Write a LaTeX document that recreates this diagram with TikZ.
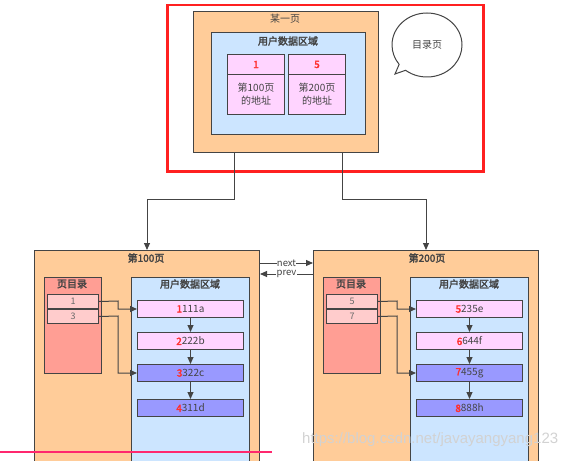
\documentclass[tikz,border=0pt]{standalone}
\usepackage{fontspec}
\setmainfont{Noto Sans CJK SC}[AutoFakeBold=2.5]
\newfontfamily\wmfont{Liberation Sans}
\usetikzlibrary{arrows.meta,shapes.callouts}
\definecolor{pageor}{HTML}{FFCC99}
\definecolor{areabl}{HTML}{CCE5FF}
\definecolor{cellpk}{HTML}{FFD4FF}
\definecolor{dirred}{HTML}{FF9E94}
\definecolor{dircell}{HTML}{FFCCCC}
\definecolor{recdark}{HTML}{9999FF}
\definecolor{edge}{HTML}{444444}
\definecolor{numred}{HTML}{FF3030}
\begin{document}
\begin{tikzpicture}[x=1pt,y=-1pt,
  box/.style={draw=edge,line width=1pt,inner sep=0pt,anchor=north west},
  lbl/.style={font=\fontsize{10}{11}\selectfont\bfseries,text=edge,inner sep=1pt},
  rec/.style={box,minimum width=106pt,minimum height=17pt,font=\fontsize{10}{11}\selectfont,text=edge},
  dcell/.style={box,fill=dircell,minimum width=51pt,minimum height=14pt,font=\fontsize{9}{10}\selectfont,text=edge!80},
  conn/.style={draw=edge,line width=1pt,-{Triangle[width=6pt,length=7pt]}},
  npl/.style={fill=white,inner sep=0.3pt,font=\fontsize{9.5}{10}\selectfont,text=edge},
]
\useasboundingbox (0,0) rectangle (583,460);
\clip (0,0) rectangle (583,460);
% top page
\node[box,fill=pageor,minimum width=185pt,minimum height=141pt] (top) at (193,11) {};
\node[lbl,font=\fontsize{10}{11}\selectfont] (toplbl) at (285,19) {某一页};
\node[box,fill=areabl,minimum width=154pt,minimum height=102pt] (toparea) at (211,32) {};
\node[lbl] (topalbl) at (288,41) {用户数据区域};
\node[box,fill=cellpk,minimum width=57pt,minimum height=20pt,font=\fontsize{10}{11}\selectfont\bfseries,text=numred] (h1) at (227,54) {1};
\node[box,fill=cellpk,minimum width=57pt,minimum height=40pt,align=center,font=\fontsize{10}{13}\selectfont,text=edge] (c1) at (227,74) {第100页\\的地址};
\node[box,fill=cellpk,minimum width=57pt,minimum height=20pt,font=\fontsize{10}{11}\selectfont\bfseries,text=numred] (h5) at (288,54) {5};
\node[box,fill=cellpk,minimum width=57pt,minimum height=40pt,align=center,font=\fontsize{10}{13}\selectfont,text=edge] (c5) at (288,74) {第200页\\的地址};
% callout
\node[ellipse callout,draw=edge,line width=1pt,fill=white,minimum width=70pt,minimum height=64pt,
  callout absolute pointer={(395,74)},font=\fontsize{10}{11}\selectfont,text=edge] (bubble) at (427,45) {目录页};
% red frame
\node[draw={rgb,255:red,255;green,32;blue,32},line width=2.5pt,minimum width=316pt,minimum height=166pt,inner sep=0pt,anchor=north west] (frame) at (166,4) {};
% bottom left page
\node[box,fill=pageor,minimum width=225pt,minimum height=230pt] (p100) at (34,250) {};
\node[lbl] (p100lbl) at (146,258) {第100页};
\node[box,fill=dirred,minimum width=57pt,minimum height=96pt] (dir1) at (44,277) {};
\node[lbl] (dir1lbl) at (72,284) {页目录};
\node[dcell] (d1) at (47,294) {1};
\node[dcell] (d3) at (47,309) {3};
\node[box,fill=areabl,minimum width=118pt,minimum height=200pt] (area1) at (131,277) {};
\node[lbl] (area1lbl) at (190,284) {用户数据区域};
\node[rec,fill=cellpk] (r1) at (137,300) {\textbf{\color{numred}1}111a};
\node[rec,fill=cellpk] (r2) at (137,332) {\textbf{\color{numred}2}222b};
\node[rec,fill=recdark] (r3) at (137,364) {\textbf{\color{numred}3}322c};
\node[rec,fill=recdark] (r4) at (137,399) {\textbf{\color{numred}4}311d};
% bottom right page
\node[box,fill=pageor,minimum width=225pt,minimum height=230pt] (p200) at (313,250) {};
\node[lbl] (p200lbl) at (427,258) {第200页};
\node[box,fill=dirred,minimum width=57pt,minimum height=96pt] (dir2) at (323,277) {};
\node[lbl] (dir2lbl) at (351,284) {页目录};
\node[dcell] (d5) at (326,294) {5};
\node[dcell] (d7) at (326,309) {7};
\node[box,fill=areabl,minimum width=118pt,minimum height=200pt] (area2) at (410,277) {};
\node[lbl] (area2lbl) at (469,284) {用户数据区域};
\node[rec,fill=cellpk] (s1) at (416,300) {\textbf{\color{numred}5}235e};
\node[rec,fill=cellpk] (s2) at (416,332) {\textbf{\color{numred}6}644f};
\node[rec,fill=recdark] (s3) at (416,364) {\textbf{\color{numred}7}455g};
\node[rec,fill=recdark] (s4) at (416,399) {\textbf{\color{numred}8}888h};
% top connectors
\draw[conn] (top.south -| 234,0) |- (147,199) -- (p100.north -| 147,0);
\draw[conn] (top.south -| 342,0) |- (426,199) -- (p200.north -| 426,0);
% record chains
\foreach \a/\b in {r1/r2,r2/r3,r3/r4,s1/s2,s2/s3,s3/s4}{
  \draw[conn] (\a.south) -- (\b.north);
}
% directory pointers
\draw[conn] (d1.east) -- (118,301) |- (r1.west);
\draw[conn] (d3.east) -- (118,316) |- (r3.west);
\draw[conn] (d5.east) -- (397,301) |- (s1.west);
\draw[conn] (d7.east) -- (397,316) |- (s3.west);
% next / prev
\draw[conn] (p100.east |- 0,263) -- node[npl] (nextlbl) {next} (p200.west |- 0,263);
\draw[conn] (p200.west |- 0,274) -- node[npl] (prevlbl) {prev} (p100.east |- 0,274);
% bottom line and watermark
\coordinate (lineA) at (0,452);
\coordinate (lineB) at (272,452);
\draw[draw={rgb,255:red,255;green,40;blue,110},line width=2pt] (lineA) -- (lineB);
\node[font=\wmfont\fontsize{15}{16}\selectfont,text=gray!35,anchor=west,inner sep=0pt] (wm) at (302,440) {https://blog.csdn.net/javayangyang123};
\end{tikzpicture}
\end{document}
